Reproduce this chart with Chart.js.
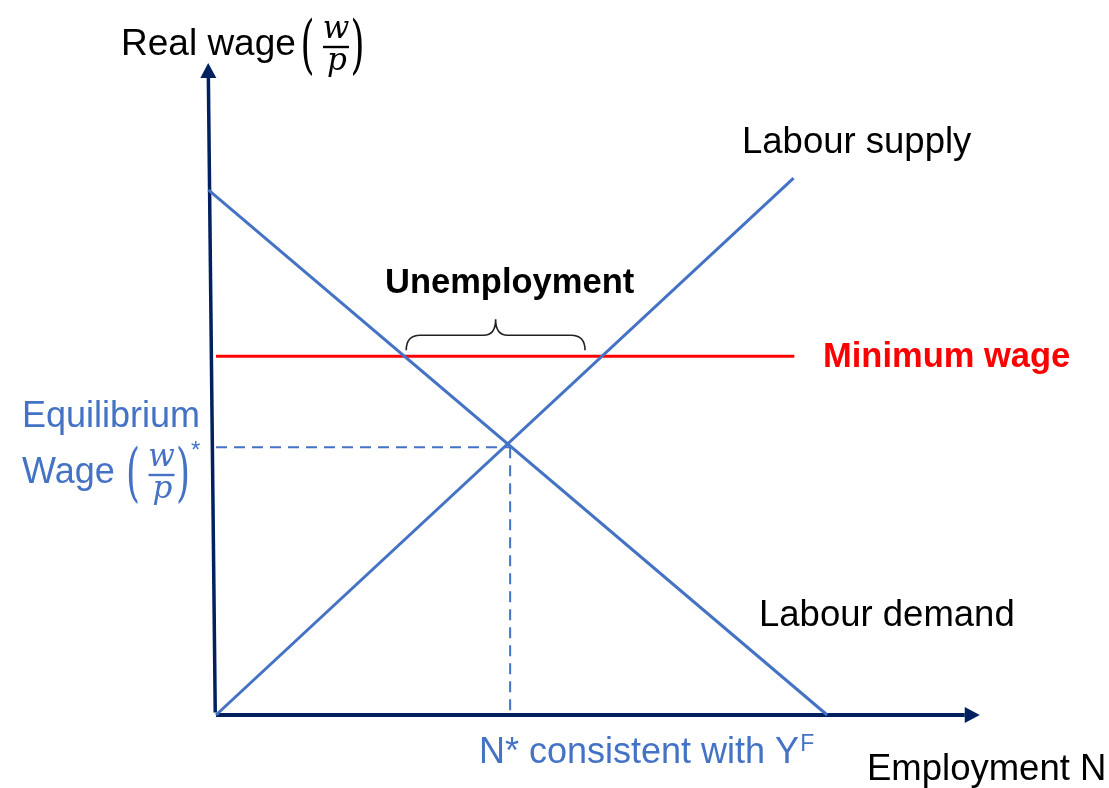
<!DOCTYPE html>
<html>
<head>
<meta charset="utf-8">
<title>Labour market with a minimum wage</title>
<script src="https://cdn.jsdelivr.net/npm/chart.js@4/dist/chart.umd.min.js"></script>
<style>
  html, body { margin: 0; padding: 0; background: #fff; }
  #wrap { width: 1109px; height: 788px; position: relative; }
</style>
</head>
<body>
<div id="wrap"><canvas id="labourChart"></canvas></div>
<script>
// ── Data (employment on x, real wage on y, both 0..100) ──────────────────
const labourDemand = [{ x: -1, y: 80.8 }, { x: 80, y: 0 }];
const labourSupply = [{ x: 0, y: 0 }, { x: 75.6, y: 82.6 }];
const minimumWage  = [{ x: 0, y: 55.2 }, { x: 75.7, y: 55.2 }];
const equilibrium  = [38.5, 41.2];          // [N*, (w/p)*]
const unemploymentRange = [24.9, 48.3];     // brace ends on the minimum wage line
const xAxisLine = [{ x: 0, y: 0 }, { x: 98, y: 0 }];
const yAxisLine = [{ x: -0.1, y: 0.4 }, { x: -1, y: 98 }];

const BLUE  = '#4472C4';
const NAVY  = '#002060';
const RED   = '#FF0000';
const SANS  = "'Liberation Sans', Arial, sans-serif";
const MATH  = "'DejaVu Serif', serif";

// ── Helpers for the hand drawn annotations ───────────────────────────────
function stretched(ctx, ch, cx, top, bottom, font) {
  ctx.save();
  ctx.font = font;
  const m = ctx.measureText(ch);
  const asc = m.actualBoundingBoxAscent, desc = m.actualBoundingBoxDescent;
  const sy = (bottom - top) / (asc + desc);
  ctx.translate(cx, top);
  ctx.scale(1, sy);
  ctx.textAlign = 'center';
  ctx.textBaseline = 'alphabetic';
  ctx.fillText(ch, 0, asc);
  ctx.restore();
}

// (w / p) with tall brackets, centred on cx with the bar at barY
function wOverP(ctx, cx, barY, color) {
  ctx.save();
  ctx.fillStyle = color;
  ctx.strokeStyle = color;
  ctx.textAlign = 'center';
  ctx.font = 'italic 31px ' + MATH;
  ctx.fillText('w', cx, barY - 9);
  ctx.fillText('p', cx + 1, barY + 23);
  ctx.lineWidth = 2.4;
  ctx.beginPath();
  ctx.moveTo(cx - 13, barY);
  ctx.lineTo(cx + 13, barY);
  ctx.stroke();
  stretched(ctx, '(', cx - 28.5, barY - 30, barY + 30, '36px ' + MATH);
  stretched(ctx, ')', cx + 21.5, barY - 30, barY + 30, '36px ' + MATH);
  ctx.restore();
}

function arrowHead(ctx, from, to, len, half) {
  const dx = to.x - from.x, dy = to.y - from.y;
  const d = Math.hypot(dx, dy);
  const ux = dx / d, uy = dy / d;
  const tip = { x: to.x + ux * len, y: to.y + uy * len };
  ctx.beginPath();
  ctx.moveTo(tip.x, tip.y);
  ctx.lineTo(to.x - uy * half, to.y + ux * half);
  ctx.lineTo(to.x + uy * half, to.y - ux * half);
  ctx.closePath();
  ctx.fill();
}

const annotations = {
  id: 'annotations',
  afterDatasetsDraw(chart) {
    const ctx = chart.ctx;
    const xs = chart.scales.x, ys = chart.scales.y;
    const px = p => ({ x: xs.getPixelForValue(p.x), y: ys.getPixelForValue(p.y) });

    // axis arrow heads
    ctx.save();
    ctx.fillStyle = NAVY;
    arrowHead(ctx, px(xAxisLine[0]), px(xAxisLine[1]), 15, 8);
    arrowHead(ctx, px(yAxisLine[0]), px(yAxisLine[1]), 15, 8);
    ctx.restore();

    // unemployment brace above the minimum wage line
    const bx1 = xs.getPixelForValue(unemploymentRange[0]);
    const bx2 = xs.getPixelForValue(unemploymentRange[1]);
    const base = ys.getPixelForValue(minimumWage[0].y) - 6;
    const mid = (bx1 + bx2) / 2, arm = base - 15, top = arm - 16;
    ctx.save();
    ctx.strokeStyle = '#222';
    ctx.lineWidth = 1.6;
    ctx.beginPath();
    ctx.moveTo(bx1, base);
    ctx.quadraticCurveTo(bx1, arm, bx1 + 14, arm);
    ctx.lineTo(mid - 12, arm);
    ctx.quadraticCurveTo(mid, arm, mid, top);
    ctx.quadraticCurveTo(mid, arm, mid + 12, arm);
    ctx.lineTo(bx2 - 14, arm);
    ctx.quadraticCurveTo(bx2, arm, bx2, base);
    ctx.stroke();
    ctx.restore();

    // texts
    ctx.save();
    ctx.textAlign = 'left';
    ctx.textBaseline = 'alphabetic';

    ctx.fillStyle = '#000';
    ctx.font = '37px ' + SANS;
    ctx.fillText('Real wage', 121, 55);
    wOverP(ctx, 336, 47, '#000');

    ctx.font = '36.5px ' + SANS;
    ctx.fillText('Labour supply', 742, 153);
    ctx.fillText('Labour demand', 759, 626);
    ctx.fillText('Employment N', 867, 780);

    ctx.font = 'bold 34.5px ' + SANS;
    ctx.fillText('Unemployment', 385, 293);
    ctx.fillStyle = RED;
    ctx.fillText('Minimum wage', 823, 367);

    ctx.fillStyle = BLUE;
    ctx.font = '36px ' + SANS;
    ctx.fillText('Equilibrium', 22, 427);
    ctx.fillText('Wage', 22, 483);
    wOverP(ctx, 161.5, 475, BLUE);
    ctx.font = '24px ' + SANS;
    ctx.fillText('*', 191, 458);

    ctx.font = '36px ' + SANS;
    const nLabel = 'N* consistent with Y';
    ctx.fillText(nLabel, 479, 763);
    const w = ctx.measureText(nLabel).width;
    ctx.font = '23px ' + SANS;
    ctx.fillText('F', 479 + w + 1, 751);
    ctx.restore();
  }
};

function line(data, color, width, extra) {
  return Object.assign({
    data, showLine: true, borderColor: color, backgroundColor: color,
    borderWidth: width, pointRadius: 0, pointHoverRadius: 0, clip: false,
    borderCapStyle: 'butt'
  }, extra || {});
}

new Chart(document.getElementById('labourChart'), {
  type: 'scatter',
  data: {
    datasets: [
      line(labourSupply, BLUE, 3, { order: 1 }),
      line(labourDemand, BLUE, 3, { order: 1 }),
      line(minimumWage, RED, 3, { order: 2 }),
      line([{ x: 0, y: equilibrium[1] }, { x: equilibrium[0], y: equilibrium[1] }], BLUE, 2,
           { borderDash: [11, 7], order: 3 }),
      line([{ x: equilibrium[0], y: equilibrium[1] }, { x: equilibrium[0], y: 0 }], BLUE, 2,
           { borderDash: [11, 7], order: 3 }),
      line(xAxisLine, NAVY, 4, { order: 5 }),
      line(yAxisLine, NAVY, 3.5, { order: 5 })
    ]
  },
  options: {
    responsive: true,
    maintainAspectRatio: false,
    animation: false,
    events: [],
    layout: { padding: { left: 216, right: 129, top: 65, bottom: 73 } },
    scales: {
      x: { type: 'linear', min: 0, max: 100, display: false },
      y: { type: 'linear', min: 0, max: 100, display: false }
    },
    plugins: { legend: { display: false }, tooltip: { enabled: false } }
  },
  plugins: [annotations]
});
</script>
</body>
</html>
